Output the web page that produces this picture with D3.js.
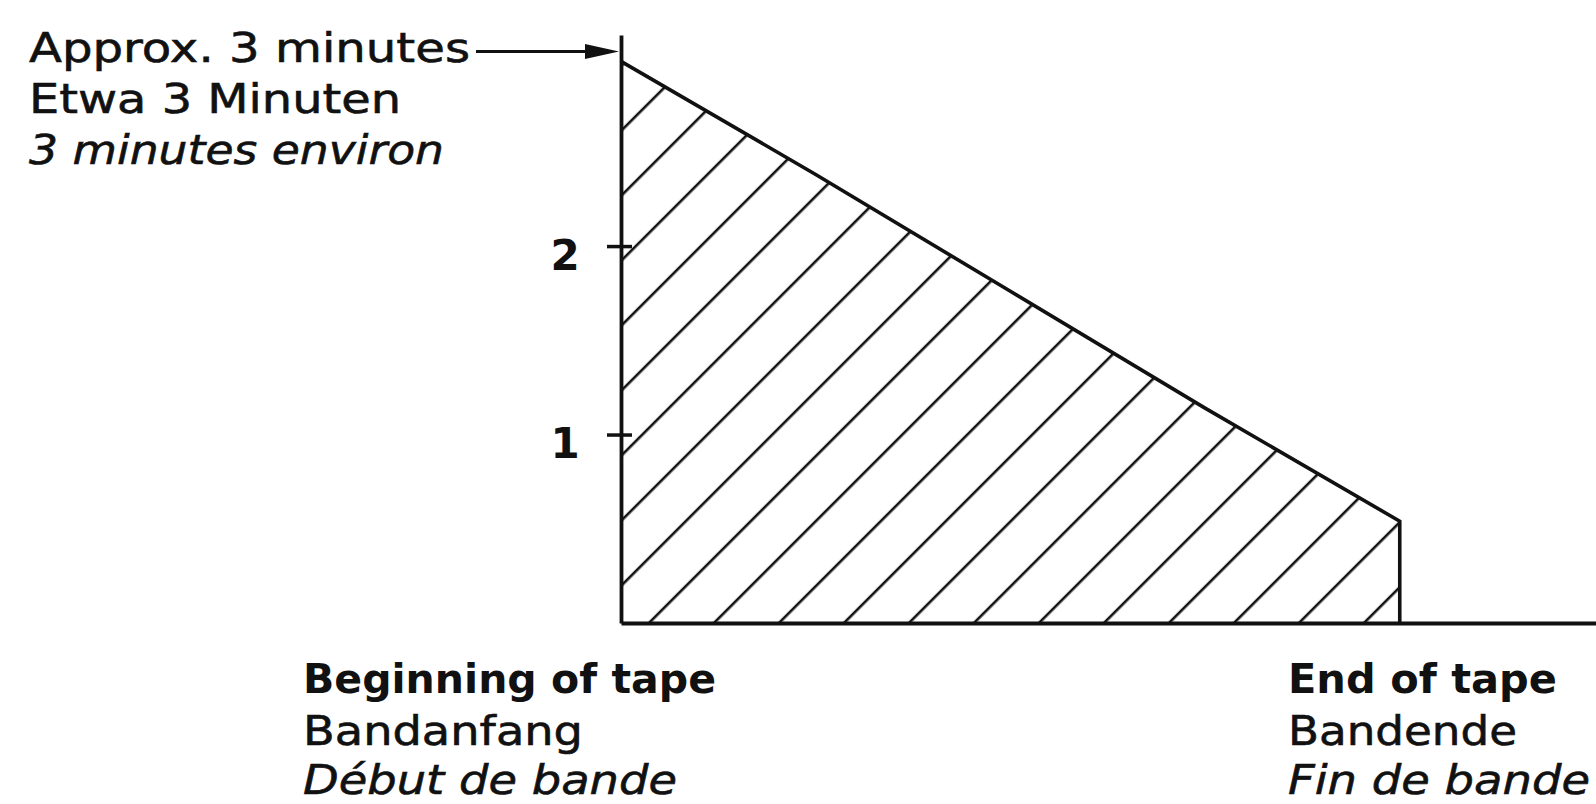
<!DOCTYPE html>
<html>
<head>
<meta charset="utf-8">
<script src="https://cdn.jsdelivr.net/npm/d3@7"></script>
<style>
  body { margin: 0; background: #fff; }
  #svg-container { width: 1596px; height: 804px; }
  text { font-family: "DejaVu Sans", "Liberation Sans", sans-serif; fill: #111; }
</style>
</head>
<body>
<div id="svg-container"></div>
<script>
////////////////////////////////////////////////////////////////////
////////////////////////////  Data  ////////////////////////////////
// tape position (0 = beginning, 1 = end) vs. minutes
const tapePos = [0, 0.25, 0.5, 0.75, 1];
const minutes = [2.98, 2.38, 1.76, 1.14, 0.54];
const yTicks = [1, 2];

const startLabels = ["Approx. 3 minutes", "Etwa 3 Minuten", "3 minutes environ"];
const beginLabels = ["Beginning of tape", "Bandanfang", "Début de bande"];
const endLabels = ["End of tape", "Bandende", "Fin de bande"];

////////////////////////////////////////////////////////////////////
////////////////////////////  Init  ////////////////////////////////
const width = 1596;
const height = 804;
const ink = "#111";

const svg = d3
  .select("#svg-container")
  .append("svg")
  .attr("width", width)
  .attr("height", height);

// scale
const x = d3.scaleLinear().domain([0, 1.252]).range([621, width]);
const y = d3.scaleLinear().domain([0, 3.12]).range([623, 35]);

const data = tapePos.map((d, i) => ({ pos: d, min: minutes[i] }));

// hatch pattern (lines at 45deg, 65px apart horizontally)
const gap = 65 / Math.SQRT2;
const pattern = svg
  .append("defs")
  .append("pattern")
  .attr("id", "hatch")
  .attr("patternUnits", "userSpaceOnUse")
  .attr("width", gap)
  .attr("height", gap)
  .attr("patternTransform", "rotate(45)");
pattern
  .append("rect")
  .attr("x", 37 / Math.SQRT2 - 1.3)
  .attr("y", 0)
  .attr("width", 2.6)
  .attr("height", gap)
  .attr("fill", ink);

////////////////////////////////////////////////////////////////////
////////////////////////////  Area  ////////////////////////////////
const area = d3
  .area()
  .x((d) => x(d.pos))
  .y0(y(0))
  .y1((d) => y(d.min));

svg.append("path").datum(data).attr("d", area).attr("fill", "url(#hatch)");

// outline: top edge + end of tape edge
const line = d3
  .line()
  .x((d) => x(d.pos))
  .y((d) => y(d.min));

const last = data[data.length - 1];
svg
  .append("path")
  .datum(data.concat([{ pos: last.pos, min: 0 }]))
  .attr("d", line)
  .attr("fill", "none")
  .attr("stroke", ink)
  .attr("stroke-width", 3.6)
  .attr("stroke-linejoin", "miter");

////////////////////////////////////////////////////////////////////
////////////////////////////  Axes  ////////////////////////////////
const xAxis = svg
  .append("g")
  .attr("transform", `translate(0, ${y(0)})`)
  .call(d3.axisBottom(x).tickValues([]).tickSizeOuter(0));
xAxis.select(".domain").attr("stroke", ink).attr("stroke-width", 3.8);

const yAxis = svg
  .append("g")
  .attr("transform", `translate(${x(0)}, 0)`)
  .call(
    d3
      .axisLeft(y)
      .tickValues(yTicks)
      .tickSize(14)
      .tickSizeOuter(0)
      .tickFormat(d3.format("d"))
  );
yAxis.select(".domain").attr("stroke", ink).attr("stroke-width", 3.8);
yAxis
  .selectAll(".tick line")
  .attr("x1", 11)
  .attr("stroke", ink)
  .attr("stroke-width", 3.5);
yAxis
  .selectAll(".tick text")
  .attr("x", -56)
  .attr("dy", "0.55em")
  .attr("text-anchor", "middle")
  .attr("font-family", "DejaVu Sans, sans-serif")
  .attr("font-size", 42)
  .attr("font-weight", "bold")
  .attr("fill", ink);

// arrow to the 3 minute point
const arrowY = y(3) - 6;
svg
  .append("line")
  .attr("x1", 476)
  .attr("x2", x(0) - 30)
  .attr("y1", arrowY)
  .attr("y2", arrowY)
  .attr("stroke", ink)
  .attr("stroke-width", 3);
svg
  .append("path")
  .attr(
    "d",
    `M${x(0) - 2},${arrowY} L${x(0) - 36},${arrowY - 7.5} L${x(0) - 36},${arrowY + 7.5} Z`
  )
  .attr("fill", ink);

////////////////////////////////////////////////////////////////////
////////////////////////////  Labels  //////////////////////////////
const styles = {
  top: { x: 29, y: [62, 113, 164], w: [441, 372, 415], weight: ["normal", "normal", "normal"], style: ["normal", "normal", "italic"] },
  begin: { x: 303, y: [693, 745, 794], w: [413, 280, 374], weight: ["bold", "normal", "normal"], style: ["normal", "normal", "italic"] },
  end: { x: 1288, y: [693, 745, 794], w: [269, 229, 302], weight: ["bold", "normal", "normal"], style: ["normal", "normal", "italic"] },
};

const drawBlock = (labels, s) => {
  svg
    .append("g")
    .selectAll("text")
    .data(labels)
    .enter()
    .append("text")
    .attr("x", s.x)
    .attr("y", (d, i) => s.y[i])
    .attr("font-size", 41)
    .attr("font-weight", (d, i) => s.weight[i])
    .attr("font-style", (d, i) => s.style[i])
    .attr("stroke", ink)
    .attr("stroke-width", (d, i) => (s.weight[i] === "bold" ? 0 : 0.6))
    .attr("textLength", (d, i) => s.w[i])
    .attr("lengthAdjust", "spacingAndGlyphs")
    .text((d) => d);
};

drawBlock(startLabels, styles.top);
drawBlock(beginLabels, styles.begin);
drawBlock(endLabels, styles.end);
</script>
</body>
</html>
